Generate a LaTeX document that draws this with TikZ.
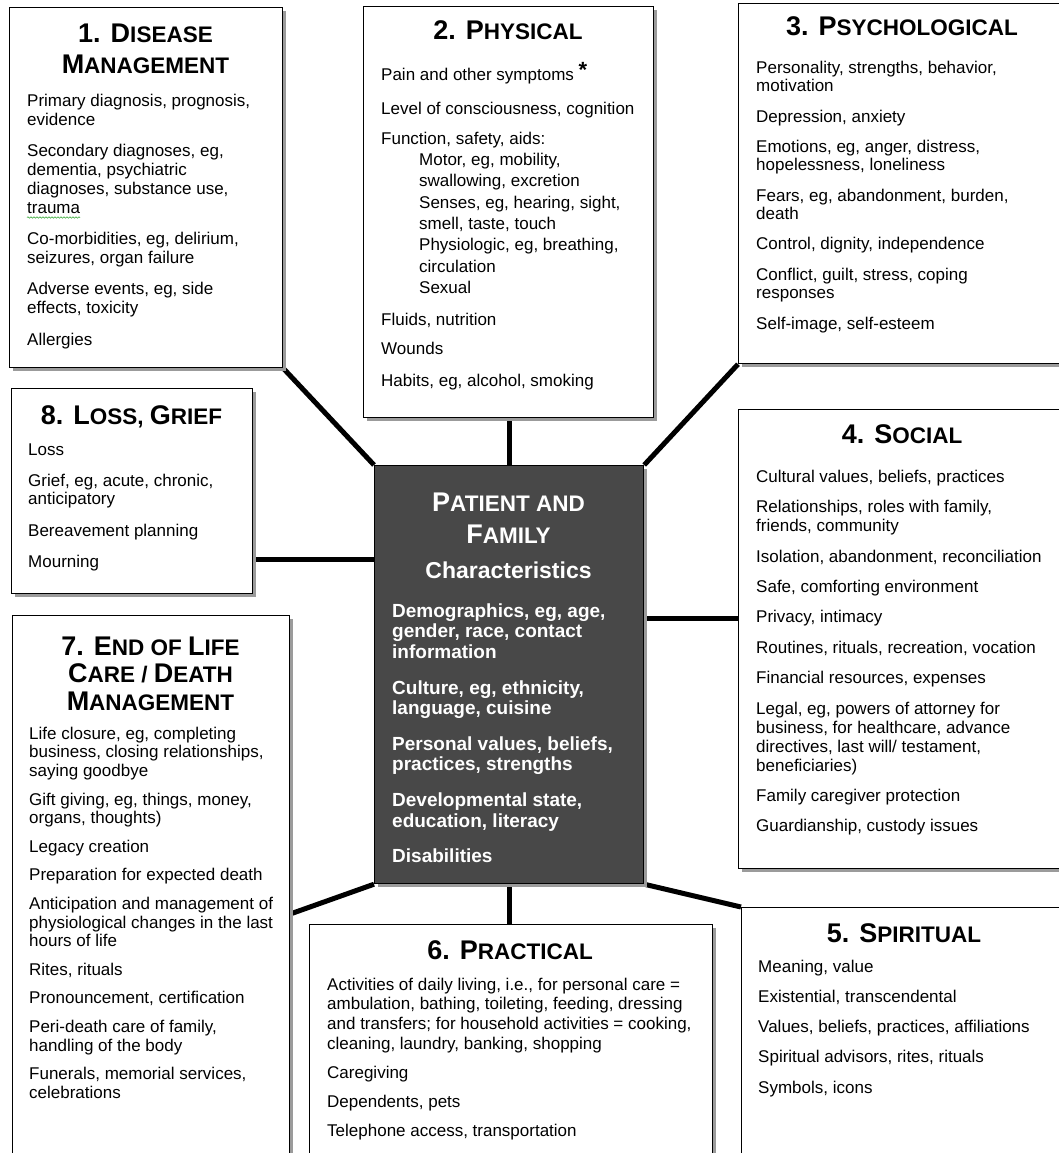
\documentclass[tikz,border=0pt]{standalone}
\usepackage{fontspec}
\setmainfont{Liberation Sans}
\usetikzlibrary{shadows,decorations.pathmorphing}
\pgfdeclarelayer{bg}
\pgfsetlayers{bg,main}
\definecolor{centerfill}{RGB}{72,72,72}
\definecolor{shadowgray}{RGB}{155,155,155}
\definecolor{spellgreen}{RGB}{60,170,60}
\newcommand\tb[1]{{\fontsize{27}{30}\selectfont #1}}
\newcommand\ts[1]{{\fontsize{22.5}{30}\selectfont #1}}
\newcommand\fl{\rule{0pt}{20pt}}
\newcommand\ind{\hspace*{38pt}}
\begin{document}
\begin{tikzpicture}[x=1pt,y=-1pt,
  box/.style={draw=black, line width=1.2pt, fill=white, inner sep=0pt, anchor=north west,
    drop shadow={shadow xshift=3pt, shadow yshift=-3pt, fill=shadowgray, opacity=1}},
  centerbox/.style={box, fill=centerfill},
  conn/.style={line width=5pt, black},
  title/.style={anchor=base, inner sep=0pt, font=\bfseries},
  body/.style={anchor=north west, inner sep=0pt, align=left}]
\useasboundingbox (0,0) rectangle (1059,1153);
\clip (0,0) rectangle (1059,1153);

% boxes
\node[box, minimum width=273pt, minimum height=360pt] (b1) at (9,7) {};
\node[box, minimum width=290pt, minimum height=411pt] (b2) at (363,6) {};
\node[box, minimum width=328pt, minimum height=360pt] (b3) at (738,3) {};
\node[box, minimum width=241pt, minimum height=205pt] (b8) at (11,388) {};
\node[centerbox, minimum width=269pt, minimum height=418pt] (c) at (374,465) {};
\node[box, minimum width=328pt, minimum height=459pt] (b4) at (738,409) {};
\node[box, minimum width=277pt, minimum height=560pt] (b7) at (12,615) {};
\node[box, minimum width=403pt, minimum height=250pt] (b6) at (309,924) {};
\node[box, minimum width=326pt, minimum height=270pt] (b5) at (741,907) {};

% connector helper coordinates
\coordinate (k8) at (0,559);
\coordinate (k4) at (0,618);
\coordinate (k7) at (0,914);

\begin{pgfonlayer}{bg}
\draw[conn] (b1.south east) -- (c.north west);
\draw[conn] (c.north) -- (c.north |- b2.south);
\draw[conn] (b3.south west) -- (c.north east);
\draw[conn] (b8.east |- k8) -- (c.west |- k8);
\draw[conn] (c.east |- k4) -- (b4.west |- k4);
\draw[conn] (b7.east |- k7) -- (c.south west);
\draw[conn] (c.south) -- (c.south |- b6.north);
\draw[conn] (c.south east) -- (b5.north west);
\end{pgfonlayer}

% titles
\node[title] (t1a) at (145.5,43) {\tb{1. D}\ts{ISEASE}};
\node[title] (t1b) at (145.5,74) {\tb{M}\ts{ANAGEMENT}};
\node[title] (t2) at (508,40) {\tb{2. P}\ts{HYSICAL}};
\node[title] (t3) at (902,36) {\tb{3. P}\ts{SYCHOLOGICAL}};
\node[title] (t4) at (902,443) {\tb{4. S}\ts{OCIAL}};
\node[title] (t5) at (904,942) {\tb{5. S}\ts{PIRITUAL}};
\node[title] (t6) at (510,959) {\tb{6. P}\ts{RACTICAL}};
\node[title] (t7a) at (150.5,655) {\tb{7. E}\ts{ND OF }\tb{L}\ts{IFE}};
\node[title] (t7b) at (150.5,682) {\tb{C}\ts{ARE / }\tb{D}\ts{EATH}};
\node[title] (t7c) at (150.5,710) {\tb{M}\ts{ANAGEMENT}};
\node[title] (t8) at (131.5,424) {\tb{8. L}\ts{OSS, }\tb{G}\ts{RIEF}};
\node[title, text=white] (ca) at (508.5,511) {\tb{P}\ts{ATIENT AND}};
\node[title, text=white] (cb) at (508.5,543) {\tb{F}\ts{AMILY}};
\node[title, text=white, font=\bfseries\fontsize{23}{26}\selectfont] (cc) at (508.5,578) {Characteristics};

% bodies
\node[body, font=\fontsize{17}{19}\selectfont] (x1) at (27,86) {\fl Primary diagnosis, prognosis,\\ evidence\\[12.25pt]
Secondary diagnoses, eg,\\ dementia, psychiatric\\ diagnoses, substance use,\\ trauma\\[12.25pt]
Co-morbidities, eg, delirium,\\ seizures, organ failure\\[12.25pt]
Adverse events, eg, side\\ effects, toxicity\\[12.25pt]
Allergies};
\draw[spellgreen, line width=0.6pt, decorate, decoration={snake, amplitude=0.7pt, segment length=3pt}] (27,217.5) -- (80,217.5);

\node[body, font=\fontsize{17}{21.3}\selectfont] (x2) at (381,60) {\fl Pain and other symptoms \raisebox{3pt}{\fontsize{22}{22}\selectfont\bfseries *}\\[12.7pt]
Level of consciousness, cognition\\[8.7pt]
Function, safety, aids:\\
\ind Motor, eg, mobility,\\ \ind swallowing, excretion\\ \ind Senses, eg, hearing, sight,\\ \ind smell, taste, touch\\ \ind Physiologic, eg, breathing,\\ \ind circulation\\ \ind Sexual\\[10.6pt]
Fluids, nutrition\\[8pt]
Wounds\\[11pt]
Habits, eg, alcohol, smoking};

\node[body, font=\fontsize{17}{18.5}\selectfont] (x3) at (756,53) {\fl Personality, strengths, behavior,\\ motivation\\[11.8pt]
Depression, anxiety\\[11.8pt]
Emotions, eg, anger, distress,\\ hopelessness, loneliness\\[11.8pt]
Fears, eg, abandonment, burden,\\ death\\[11.8pt]
Control, dignity, independence\\[11.8pt]
Conflict, guilt, stress, coping\\ responses\\[11.8pt]
Self-image, self-esteem};

\node[body, font=\fontsize{17}{19}\selectfont] (x4) at (756,462) {\fl Cultural values, beliefs, practices\\[11.4pt]
Relationships, roles with family,\\ friends, community\\[11.4pt]
Isolation, abandonment, reconciliation\\[11.4pt]
Safe, comforting environment\\[11.4pt]
Privacy, intimacy\\[11.4pt]
Routines, rituals, recreation, vocation\\[11.4pt]
Financial resources, expenses\\[11.4pt]
Legal, eg, powers of attorney for\\ business, for healthcare, advance\\ directives, last will/ testament,\\ beneficiaries)\\[11.4pt]
Family caregiver protection\\[11.4pt]
Guardianship, custody issues};

\node[body, font=\fontsize{17}{19}\selectfont] (x5) at (758,952) {\fl Meaning, value\\[11.25pt]
Existential, transcendental\\[11.25pt]
Values, beliefs, practices, affiliations\\[11.25pt]
Spiritual advisors, rites, rituals\\[11.25pt]
Symbols, icons};

\node[body, font=\fontsize{17}{19.7}\selectfont] (x6) at (327,970) {\fl Activities of daily living, i.e., for personal care =\\ ambulation, bathing, toileting, feeding, dressing\\ and transfers; for household activities = cooking,\\ cleaning, laundry, banking, shopping\\[9.3pt]
Caregiving\\[9.3pt]
Dependents, pets\\[9.3pt]
Telephone access, transportation};

\node[body, font=\fontsize{17}{18.6}\selectfont] (x7) at (29,719) {\fl Life closure, eg, completing\\ business, closing relationships,\\ saying goodbye\\[10pt]
Gift giving, eg, things, money,\\ organs, thoughts)\\[10pt]
Legacy creation\\[10pt]
Preparation for expected death\\[10pt]
Anticipation and management of\\ physiological changes in the last\\ hours of life\\[10pt]
Rites, rituals\\[10pt]
Pronouncement, certification\\[10pt]
Peri-death care of family,\\ handling of the body\\[10pt]
Funerals, memorial services,\\ celebrations};

\node[body, font=\fontsize{17}{18.5}\selectfont] (x8) at (28,435) {\fl Loss\\[12.7pt]
Grief, eg, acute, chronic,\\ anticipatory\\[12.7pt]
Bereavement planning\\[12.7pt]
Mourning};

\node[body, text=white, font=\bfseries\fontsize{19}{20.6}\selectfont] (xc) at (392,597) {\fl Demographics, eg, age,\\ gender, race, contact\\ information\\[15pt]
Culture, eg, ethnicity,\\ language, cuisine\\[15pt]
Personal values, beliefs,\\ practices, strengths\\[15pt]
Developmental state,\\ education, literacy\\[15pt]
Disabilities};
\end{tikzpicture}
\end{document}
